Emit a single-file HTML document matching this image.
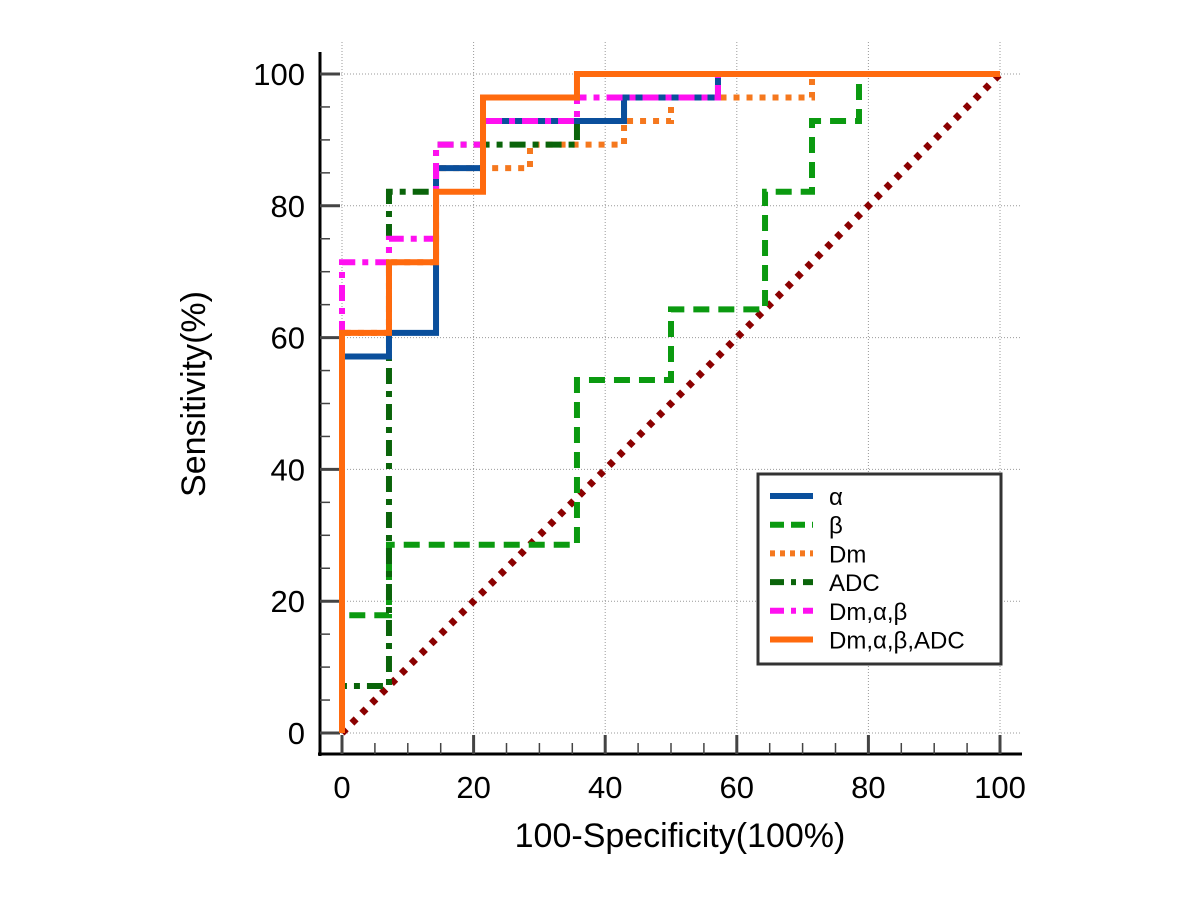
<!DOCTYPE html>
<html><head><meta charset="utf-8"><style>
html,body{margin:0;padding:0;background:#fff;}
svg{display:block;font-family:"Liberation Sans",sans-serif;}
</style></head><body>
<svg id="chart" width="1200" height="900" viewBox="0 0 1200 900">
<g id="grid"></g>
<g id="axes"></g>
<g id="series"></g>
<text x="205" y="394" font-size="34" text-anchor="middle" transform="rotate(-90 205 394)">Sensitivity(%)</text>
<text x="680" y="847" font-size="34" text-anchor="middle">100-Specificity(100%)</text>
<g id="legend"></g>
</svg>
<script>
const ticks = [0, 20, 40, 60, 80, 100];
const seriesNames = ["α", "β", "Dm", "ADC", "Dm,α,β", "Dm,α,β,ADC"];
const alphaX = [0, 0, 7.14, 7.14, 14.29, 14.29, 21.43, 21.43, 42.86, 42.86, 57.14, 57.14, 100];
const alphaY = [0, 57.14, 57.14, 60.71, 60.71, 85.71, 85.71, 92.86, 92.86, 96.43, 96.43, 100, 100];
const betaX = [0, 0, 7.14, 7.14, 35.71, 35.71, 50, 50, 64.29, 64.29, 71.43, 71.43, 78.57, 78.57, 100];
const betaY = [0, 17.86, 17.86, 28.57, 28.57, 53.57, 53.57, 64.29, 64.29, 82.14, 82.14, 92.86, 92.86, 100, 100];
const dmX = [0, 0, 7.14, 7.14, 14.29, 14.29, 28.57, 28.57, 42.86, 42.86, 50, 50, 71.43, 71.43, 100];
const dmY = [0, 60.71, 60.71, 71.43, 71.43, 85.71, 85.71, 89.29, 89.29, 92.86, 92.86, 96.43, 96.43, 100, 100];
const adcX = [0, 0, 7.14, 7.14, 14.29, 14.29, 35.71, 35.71, 42.86, 42.86, 57.14, 57.14, 100];
const adcY = [0, 7.14, 7.14, 82.14, 82.14, 89.29, 89.29, 92.86, 92.86, 96.43, 96.43, 100, 100];
const combo3X = [0, 0, 7.14, 7.14, 14.29, 14.29, 21.43, 21.43, 35.71, 35.71, 57.14, 57.14, 100];
const combo3Y = [0, 71.43, 71.43, 75, 75, 89.29, 89.29, 92.86, 92.86, 96.43, 96.43, 100, 100];
const combo4X = [0, 0, 7.14, 7.14, 14.29, 14.29, 21.43, 21.43, 35.71, 35.71, 100];
const combo4Y = [0, 60.71, 60.71, 71.43, 71.43, 82.14, 82.14, 96.43, 96.43, 100, 100];
const refX = [0, 100];
const refY = [0, 100];

const NS = "http://www.w3.org/2000/svg";
const sx = v => 342 + v * 6.58;
const sy = v => 733 - v * 6.59;
function mk(tag, attrs, parent) {
  const e = document.createElementNS(NS, tag);
  for (const k in attrs) e.setAttribute(k, attrs[k]);
  parent.appendChild(e);
  return e;
}
const grid = document.getElementById("grid");
const axes = document.getElementById("axes");
const series = document.getElementById("series");
const legend = document.getElementById("legend");

ticks.forEach(t => {
  const gv = mk("line", {x1: sx(t), x2: sx(t), y1: 42, y2: 754, stroke: "#999", "stroke-width": 1, "stroke-dasharray": "1,2"}, grid);
  
  
  const gh = mk("line", {x1: 320, x2: 1022, y1: sy(t), y2: sy(t), stroke: "#999", "stroke-width": 1, "stroke-dasharray": "1,2"}, grid);
  
  
});

const yAx = mk("line", {x1: 320, x2: 320, y1: 52, y2: 756, stroke: "#000", "stroke-width": 3}, axes);


const xAx = mk("line", {x1: 318, x2: 1022, y1: 754, y2: 754, stroke: "#000", "stroke-width": 3}, axes);



for (let t = 0; t <= 100; t += 5) {
  const major = t % 20 === 0;
  const ty = mk("line", {x1: 320, x2: major ? 340 : 330, y1: sy(t), y2: sy(t), stroke: "#444", "stroke-width": major ? 3 : 1.5}, axes);
  
  
  const tx = mk("line", {x1: sx(t), x2: sx(t), y1: major ? 735 : 743, y2: 754, stroke: "#444", "stroke-width": major ? 3 : 1.5}, axes);
  
  
}
ticks.forEach(t => {
  const ly = mk("text", {x: 305, y: sy(t) + 11, "font-size": 31, "text-anchor": "end"}, axes);
  ly.textContent = t;
  
  
  const lx = mk("text", {x: sx(t), y: 798, "font-size": 31, "text-anchor": "middle"}, axes);
  lx.textContent = t;
  
  
});

const styles = [
  {xs: alphaX, ys: alphaY, color: "#0a4f9c", dash: "", w: 6, name: "alpha-curve"},
  {xs: betaX, ys: betaY, color: "#0b9a10", dash: "16,9", w: 6, name: "beta-curve"},
  {xs: dmX, ys: dmY, color: "#f5781e", dash: "6,7", w: 6, name: "dm-curve"},
  {xs: adcX, ys: adcY, color: "#0a640a", dash: "16,7,6,7", w: 6, name: "adc-curve"},
  {xs: combo3X, ys: combo3Y, color: "#ff10f0", dash: "16,7,6,7", w: 6, name: "dm-alpha-beta-curve"},
  {xs: combo4X, ys: combo4Y, color: "#ff6a0e", dash: "", w: 6, name: "dm-alpha-beta-adc-curve"}
];
const refLine = mk("polyline", {points: refX.map((x, i) => sx(x) + "," + sy(refY[i])).join(" "), fill: "none", stroke: "#8b0000", "stroke-width": 7, "stroke-dasharray": "6,8"}, series);


[1, 2, 3, 0, 4, 5].forEach(i => {
  const s = styles[i];
  const p = mk("polyline", {points: s.xs.map((x, j) => sx(x) + "," + sy(s.ys[j])).join(" "), fill: "none", stroke: s.color, "stroke-width": s.w, "stroke-dasharray": s.dash}, series);
  
  
});

const box = mk("rect", {x: 758, y: 474, width: 243, height: 190, fill: "#fff", stroke: "#333", "stroke-width": 3}, legend);


seriesNames.forEach((n, i) => {
  const y = 496 + i * 28.7;
  const s = styles[i];
  const ln = mk("line", {x1: 770, x2: 813, y1: y, y2: y, stroke: s.color, "stroke-width": 6, "stroke-dasharray": s.dash ? (i === 2 ? "5,5" : (i === 1 ? "14,7" : "14,7,5,7")) : ""}, legend);
  
  
  const tx = mk("text", {x: 829, y: y + 9, "font-size": 24}, legend);
  tx.textContent = n;
  
  
});
</script>
</body></html>
